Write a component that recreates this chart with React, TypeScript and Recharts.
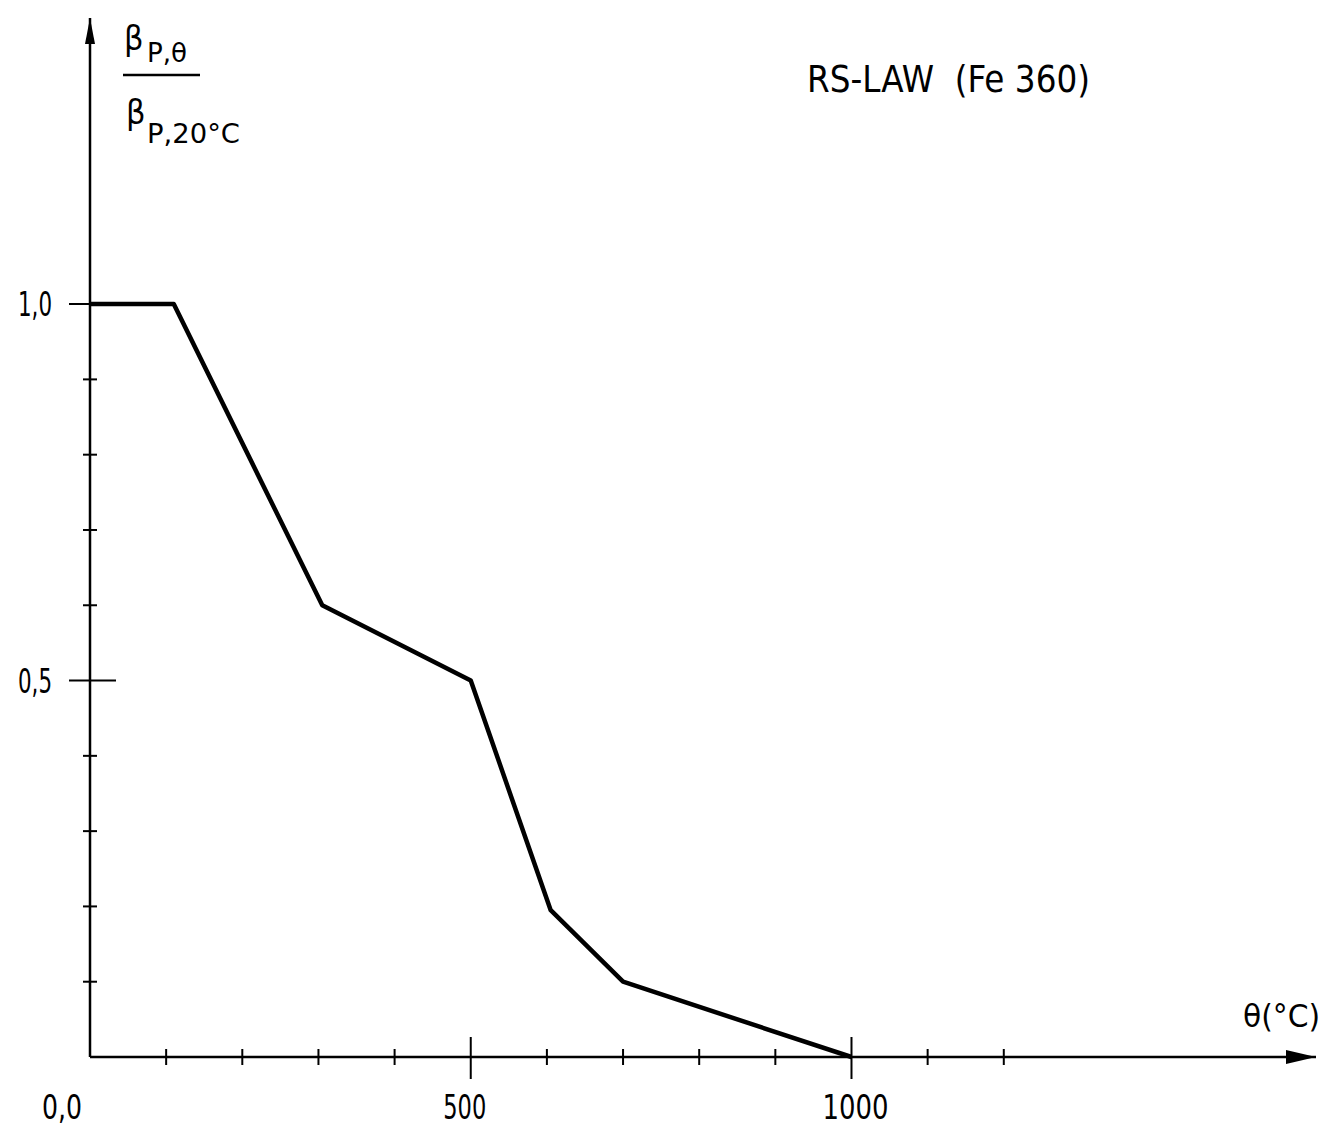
import { LineChart, Line, XAxis, YAxis, ReferenceDot } from 'recharts'

// RS-Law (Fe 360): temperatura x relação de limite de proporcionalidade
const temperaturas = [0, 110, 305, 500, 605, 700, 1000]
const relacoes = [1.0, 1.0, 0.6, 0.5, 0.195, 0.1, 0.0]

const ticksX = [0, 100, 200, 300, 400, 500, 600, 700, 800, 900, 1000, 1100, 1200]
const rotulosXValor = [0, 500, 1000]
const rotulosXTexto = ['0,0', '500', '1000']

const ticksY = [0.1, 0.2, 0.3, 0.4, 0.5, 0.6, 0.7, 0.8, 0.9, 1.0]
const rotulosYValor = [0.5, 1.0]
const rotulosYTexto = ['0,5', '1,0']

const dados = temperaturas.map((t, i) => ({ t, r: relacoes[i] }))

const FONTE = '"DejaVu Sans Condensed", "DejaVu Sans", sans-serif'
const TINTA = '#000'

// deslocamento e largura dos rótulos, pra imitar a letra técnica estreita do desenho
const ajusteX: Record<number, number> = { 0: -28, 500: -6, 1000: 4 }
const larguraX: Record<number, number> = { 0: 40, 500: 43, 1000: 66 }

function TickX({ x, y, payload }: any) {
  const v = payload.value
  const idx = rotulosXValor.indexOf(v)
  const maior = idx >= 0 && v !== 0
  return (
    <g>
      {v !== 0 && (
        <line x1={x} x2={x} y1={y - (maior ? 20 : 8)} y2={y + (maior ? 22 : 8)} stroke={TINTA} strokeWidth={2} />
      )}
      {idx >= 0 && (
        <text
          x={x + (ajusteX[v] || 0)} y={y + 62} textAnchor="middle"
          fontFamily={FONTE} fontSize={34} fill={TINTA}
          textLength={larguraX[v]} lengthAdjust="spacingAndGlyphs"
        >
          {rotulosXTexto[idx]}
        </text>
      )}
    </g>
  )
}

function TickY({ x, y, payload }: any) {
  const v = payload.value
  const idx = rotulosYValor.findIndex(r => Math.abs(r - v) < 1e-6)
  const maior = idx >= 0
  return (
    <g>
      <line x1={x - (maior ? 21 : 7)} x2={x + (maior ? 26 : 7)} y1={y} y2={y} stroke={TINTA} strokeWidth={2} />
      {maior && (
        <text
          x={x - 38} y={y + 12} textAnchor="end"
          fontFamily={FONTE} fontSize={34} fill={TINTA}
          textLength={34} lengthAdjust="spacingAndGlyphs"
        >
          {rotulosYTexto[idx]}
        </text>
      )}
    </g>
  )
}

// pontas de seta nos eixos
const SetaDireita = ({ cx, cy }: any) => (
  <path d={`M${cx},${cy} L${cx - 30},${cy - 7} L${cx - 30},${cy + 7} Z`} fill={TINTA} />
)
const SetaCima = ({ cx, cy }: any) => (
  <path d={`M${cx},${cy} L${cx - 5},${cy + 26} L${cx + 5},${cy + 26} Z`} fill={TINTA} />
)

export default function App() {
  return (
    <div style={{ position: 'absolute', left: 0, top: 0, width: 1338, height: 1128, background: '#fff' }}>
      <LineChart width={1338} height={1128} data={dados} margin={{ top: 18, right: 22, bottom: 0, left: 0 }}>
        <XAxis
          dataKey="t"
          type="number"
          domain={[0, 1610]}
          ticks={ticksX}
          interval={0}
          height={71}
          tickSize={0}
          tickMargin={0}
          tickLine={false}
          axisLine={{ stroke: TINTA, strokeWidth: 2.5 }}
          tick={<TickX />}
        />
        <YAxis
          type="number"
          domain={[0, 1.38]}
          ticks={ticksY}
          interval={0}
          width={90}
          tickSize={0}
          tickMargin={0}
          tickLine={false}
          axisLine={{ stroke: TINTA, strokeWidth: 2.5 }}
          tick={<TickY />}
        />
        <ReferenceDot x={1610} y={0} ifOverflow="visible" shape={<SetaDireita />} />
        <ReferenceDot x={0} y={1.38} ifOverflow="visible" shape={<SetaCima />} />
        <Line
          type="linear"
          dataKey="r"
          stroke={TINTA}
          strokeWidth={4.5}
          strokeLinejoin="round"
          dot={false}
          activeDot={false}
          isAnimationActive={false}
        />
      </LineChart>

      {/* textos soltos: título, fração do eixo y e rótulo do eixo x */}
      <svg width={1338} height={1128} style={{ position: 'absolute', left: 0, top: 0, pointerEvents: 'none' }} fontFamily={FONTE} fill={TINTA}>
        <text x={807} y={92} fontSize={38} textLength={283} lengthAdjust="spacingAndGlyphs" xmlSpace="preserve">RS-LAW  (Fe 360)</text>

        <text x={124} y={50} fontSize={34}>β</text>
        <text x={147} y={62} fontSize={26} textLength={40} lengthAdjust="spacingAndGlyphs">P,θ</text>
        <line x1={123} x2={200} y1={75} y2={75} stroke={TINTA} strokeWidth={2.5} />
        <text x={126} y={124} fontSize={34}>β</text>
        <text x={147} y={143} fontSize={26} textLength={93} lengthAdjust="spacingAndGlyphs">P,20°C</text>

        <text x={1243} y={1027} fontSize={32} textLength={77} lengthAdjust="spacingAndGlyphs">θ(°C)</text>
      </svg>
    </div>
  )
}
